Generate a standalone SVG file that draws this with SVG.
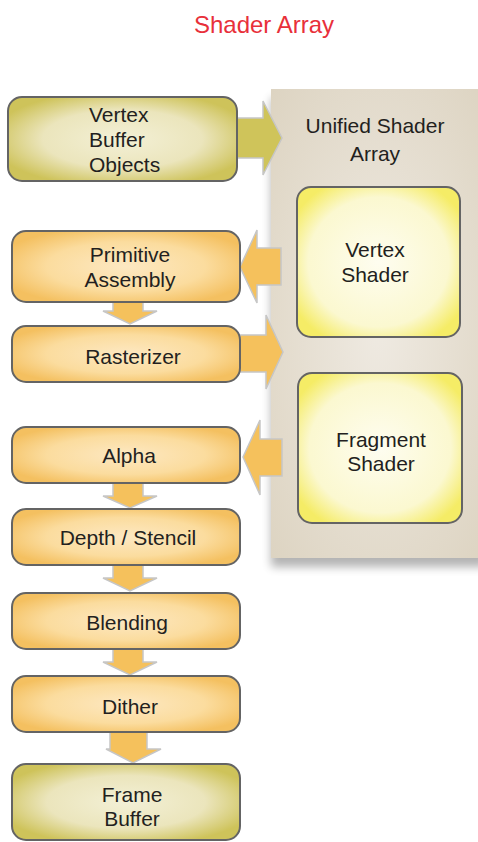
<svg xmlns="http://www.w3.org/2000/svg" width="478" height="842" viewBox="0 0 478 842">
<defs>
<radialGradient id="gOr" cx="0.5" cy="0.5" r="0.58"><stop offset="0" stop-color="#fde8c2"/><stop offset="0.6" stop-color="#fbdc9e"/><stop offset="1" stop-color="#f4c060"/></radialGradient>
<radialGradient id="gOl" cx="0.5" cy="0.5" r="0.58"><stop offset="0" stop-color="#f3f0d6"/><stop offset="0.6" stop-color="#ebe5bc"/><stop offset="1" stop-color="#cec35a"/></radialGradient>
<radialGradient id="gYe" cx="0.5" cy="0.5" r="0.6"><stop offset="0" stop-color="#fefdf0"/><stop offset="0.72" stop-color="#fbf8d0"/><stop offset="1" stop-color="#f5ec66"/></radialGradient>
<radialGradient id="gPn" cx="0.5" cy="0.5" r="0.7"><stop offset="0" stop-color="#efeae2"/><stop offset="1" stop-color="#ddd4c2"/></radialGradient>
<filter id="sh" x="-10%" y="-10%" width="130%" height="130%"><feGaussianBlur in="SourceAlpha" stdDeviation="5"/><feOffset dx="0" dy="9"/><feComponentTransfer><feFuncA type="linear" slope="0.3"/></feComponentTransfer><feMerge><feMergeNode/><feMergeNode in="SourceGraphic"/></feMerge></filter>
</defs>
<style>
.t{font-family:"Liberation Sans",Arial,sans-serif;font-size:21px;fill:#231f20;text-anchor:middle}
.box{stroke:#646464;stroke-width:2}
.or{fill:url(#gOr)}
.ol{fill:url(#gOl)}
.ye{fill:url(#gYe)}
.ao{fill:#f5c15c;stroke:#c6c6c6;stroke-width:1.5}
.al{fill:#cfc45a;stroke:#c6c6c6;stroke-width:1.5}
</style>
<rect width="478" height="842" fill="#ffffff"/>
<text x="264" y="33" style="font-family:'Liberation Sans',Arial,sans-serif;font-size:24px;fill:#e8303a;text-anchor:middle">Shader Array</text>
<g id="panel">
<rect x="271" y="89" width="215" height="469" fill="url(#gPn)" filter="url(#sh)"/>
<text class="t" x="375" y="133">Unified Shader</text>
<text class="t" x="375" y="161">Array</text>
</g>
<g id="connectors">
<polygon class="al" points="237,118 263,118 263,101 282,138 263,175 263,158 237,158"/>
<polygon class="ao" points="281,248 257,248 257,230 240,267 257,303 257,285 281,285"/>
<polygon class="ao" points="113,302 143,302 143,311 157,311 130,324 103,311 113,311"/>
<polygon class="ao" points="240,335 266,335 266,315 283,352 266,389 266,372 240,372"/>
<polygon class="ao" points="282,439 260,439 260,420 243,457 260,495 260,476 282,476"/>
<polygon class="ao" points="113,483 143,483 143,496 157,496 130,508 103,496 113,496"/>
<polygon class="ao" points="113,565 143,565 143,578 157,578 130,591 103,578 113,578"/>
<polygon class="ao" points="113,649 143,649 143,662 157,662 130,675 103,662 113,662"/>
<polygon class="ao" points="110,732 147,732 147,749 161,749 133,763 106,749 110,749"/>
</g>
<g id="vbo">
<rect class="box ol" x="8" y="97" width="229" height="84" rx="14"/>
<text class="t" x="89" y="122" style="text-anchor:start">Vertex</text>
<text class="t" x="89" y="147" style="text-anchor:start">Buffer</text>
<text class="t" x="89" y="172" style="text-anchor:start">Objects</text>
</g>
<g id="primitive">
<rect class="box or" x="12" y="231" width="228" height="71" rx="14"/>
<text class="t" x="130" y="262">Primitive</text>
<text class="t" x="130" y="287">Assembly</text>
</g>
<g id="rasterizer">
<rect class="box or" x="12" y="326" width="228" height="56" rx="14"/>
<text class="t" x="133" y="364">Rasterizer</text>
</g>
<g id="alpha">
<rect class="box or" x="12" y="427" width="228" height="56" rx="14"/>
<text class="t" x="129" y="463">Alpha</text>
</g>
<g id="depth">
<rect class="box or" x="12" y="509" width="228" height="56" rx="14"/>
<text class="t" x="128" y="545">Depth / Stencil</text>
</g>
<g id="blending">
<rect class="box or" x="12" y="593" width="228" height="56" rx="14"/>
<text class="t" x="127" y="630">Blending</text>
</g>
<g id="dither">
<rect class="box or" x="12" y="676" width="228" height="56" rx="14"/>
<text class="t" x="130" y="714">Dither</text>
</g>
<g id="framebuffer">
<rect class="box ol" x="12" y="764" width="228" height="76" rx="14"/>
<text class="t" x="132" y="802">Frame</text>
<text class="t" x="132" y="826">Buffer</text>
</g>
<g id="vertexshader">
<rect class="box ye" x="297" y="187" width="163" height="150" rx="14"/>
<text class="t" x="375" y="257">Vertex</text>
<text class="t" x="375" y="282">Shader</text>
</g>
<g id="fragmentshader">
<rect class="box ye" x="298" y="373" width="164" height="150" rx="14"/>
<text class="t" x="381" y="447">Fragment</text>
<text class="t" x="381" y="471">Shader</text>
</g>
</svg>
